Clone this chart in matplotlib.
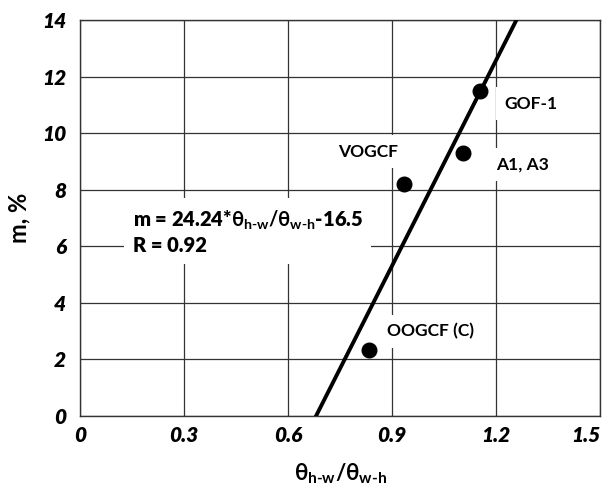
import matplotlib
matplotlib.use('Agg')
from matplotlib import pyplot as plt
import numpy as np

plt.rcParams['font.family'] = ['Lato', 'DejaVu Sans']
plt.rcParams['mathtext.fontset'] = 'custom'
plt.rcParams['mathtext.rm'] = 'Lato:bold'
plt.rcParams['mathtext.it'] = 'Lato:bold'
plt.rcParams['mathtext.bf'] = 'Lato:bold'

# measured points
names = ['GOF-1', 'A1, A3', 'VOGCF', 'OOGCF (C)']
ratio = [1.154, 1.104, 0.933, 0.832]
m_pct = [11.5, 9.3, 8.2, 2.33]

# label positions (data coords)
label_x = [1.30, 1.275, 0.83, 1.01]
label_y = [11.05, 8.9, 9.35, 3.0]

# fit m = a*x + b
slope = 24.24
intercept = -16.5
fit_x = [(0 - intercept) / slope, (14 - intercept) / slope]

xticks = [0, 0.3, 0.6, 0.9, 1.2, 1.5]
yticks = [0, 2, 4, 6, 8, 10, 12, 14]

fig = plt.figure(figsize=(6.1, 4.9), dpi=100)
ax = fig.add_axes([0.131, 0.151, 0.853, 0.808])

ax.set_xlim(0, 1.5)
ax.set_ylim(0, 14)
ax.set_xticks(xticks)
ax.set_yticks(yticks)
ax.set_xticklabels(['0', '0.3', '0.6', '0.9', '1.2', '1.5'], fontsize=15, fontweight='heavy', style='italic')
ax.set_yticklabels([str(t) for t in yticks], fontsize=15, fontweight='heavy', style='italic')
ax.get_xticklabels()[-1].set_ha('right')
ax.tick_params(length=0, pad=7)
ax.tick_params(axis='y', pad=10)
ax.grid(True, color='#333333', linewidth=0.9)
ax.set_axisbelow(True)
for s in ax.spines.values():
    s.set_color('#333333')
    s.set_linewidth(1.0)

ax.plot(fit_x, [0, 14], color='black', linewidth=2.8, zorder=3)
ax.plot(ratio, m_pct, 'o', color='black', markersize=10.5, zorder=4)

for n, lx, ly in zip(names, label_x, label_y):
    ax.text(lx, ly, n, fontsize=12.5, fontweight='bold', ha='center', va='center', zorder=2,
            bbox=dict(facecolor='white', edgecolor='none', pad=6))

ax.text(0.152, 6.5, r'm = 24.24*$\theta_{h\text{-}w}/\theta_{w\text{-}h}$-16.5' + '\nR = 0.92',
        fontsize=14.5, fontweight='heavy', ha='left', va='center', linespacing=1.25, zorder=2,
        bbox=dict(facecolor='white', edgecolor='none', pad=6))

ax.set_xlabel(r'$\theta_{h\text{-}w}/\theta_{w\text{-}h}$', fontsize=16, labelpad=12)
ax.set_ylabel('m, %', fontsize=17, fontweight='bold', labelpad=8)

fig.savefig('out.png', dpi=100)
